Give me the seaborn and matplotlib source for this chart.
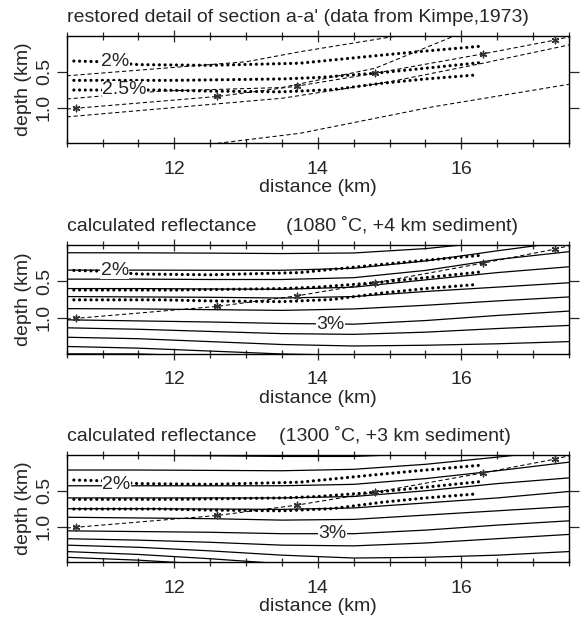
import numpy as np
import pandas as pd
import matplotlib
matplotlib.use("Agg")
import matplotlib.pyplot as plt
from matplotlib.ticker import MultipleLocator
import seaborn as sns

sns.set_theme(style="ticks")
plt.rcParams["font.family"] = ["Liberation Sans", "DejaVu Sans"]
plt.rcParams["lines.scale_dashes"] = False
FS = 14

# ---------------- data ----------------
# measured reflectance rows (dotted), distance km / depth km
ROW1_X = [10.6, 11.0, 11.5, 12.5, 13.75, 14.86, 15.5, 16.3]
ROW1_D = [0.35, 0.36, 0.40, 0.41, 0.38, 0.27, 0.21, 0.14]
ROW2_X = [10.6, 12.0, 13.5, 14.0, 14.8, 15.5, 16.28]
ROW2_D = [0.62, 0.62, 0.60, 0.58, 0.52, 0.45, 0.37]
ROW3_X = [10.6, 11.8, 12.5, 13.5, 14.2, 14.9, 15.5, 16.2]
ROW3_D = [0.755, 0.755, 0.77, 0.78, 0.75, 0.66, 0.60, 0.545]

# sample wells (asterisks) and the horizon through them
WELL_X = [10.63, 12.6, 13.71, 14.8, 16.3, 17.31]
WELL_D = [1.01, 0.845, 0.70, 0.52, 0.25, 0.056]
HOR_X = [10.5] + WELL_X + [17.5]
HOR_D = [1.02] + WELL_D + [0.01]

# restored section horizons (panel 1, dashed)
H1_X = [10.5, 11.85, 13.0, 13.75, 15.1, 15.4]
H1_D = [0.556, 0.45, 0.36, 0.22, 0.0, -0.05]
H2_X = [10.5, 11.8, 13.5, 14.8, 15.9, 16.2]
H2_D = [0.88, 0.77, 0.72, 0.45, 0.0, -0.08]
H4_X = [10.5, 12.0, 13.5, 15.0, 16.3, 17.5]
H4_D = [1.13, 1.00, 0.87, 0.64, 0.38, 0.125]
H5_X = [12.6, 13.75, 15.6, 17.5]
H5_D = [1.50, 1.36, 0.99, 0.675]

# calculated reflectance contours, depth at these distances
CX = [10.5, 11.5, 12.5, 13.5, 14.5, 15.5, 16.5, 17.5]
P2_CONTOURS = [
    [0.107, 0.108, 0.112, 0.118, 0.11, 0.05, -0.05, -0.15],
    [0.346, 0.346, 0.348, 0.348, 0.32, 0.22, 0.08, -0.05],
    [0.47, 0.47, 0.475, 0.475, 0.45, 0.35, 0.20, 0.092],
    [0.60, 0.60, 0.605, 0.61, 0.58, 0.48, 0.38, 0.30],
    [0.71, 0.715, 0.72, 0.73, 0.71, 0.64, 0.58, 0.52],
    [0.876, 0.88, 0.89, 0.90, 0.88, 0.83, 0.77, 0.715],
    [1.03, 1.045, 1.06, 1.08, 1.09, 1.04, 0.97, 0.91],
    [1.14, 1.16, 1.19, 1.22, 1.23, 1.20, 1.15, 1.107],
    [1.27, 1.29, 1.33, 1.37, 1.39, 1.38, 1.36, 1.33],
    [1.397, 1.42, 1.46, 1.50, 1.52, 1.55, 1.58, 1.60],
    [1.498, 1.50, 1.53, 1.56, 1.58, 1.60, 1.62, 1.64],
]
P3_CONTOURS = [
    [0.00, 0.005, 0.01, 0.02, 0.02, -0.02, -0.1, -0.2],
    [0.21, 0.21, 0.215, 0.22, 0.20, 0.13, 0.03, -0.08],
    [0.43, 0.43, 0.43, 0.43, 0.41, 0.33, 0.22, 0.10],
    [0.60, 0.60, 0.60, 0.60, 0.58, 0.50, 0.40, 0.32],
    [0.75, 0.75, 0.755, 0.76, 0.74, 0.67, 0.60, 0.51],
    [0.87, 0.88, 0.89, 0.91, 0.90, 0.84, 0.78, 0.72],
    [1.06, 1.07, 1.08, 1.10, 1.10, 1.05, 0.98, 0.92],
    [1.17, 1.19, 1.22, 1.26, 1.27, 1.23, 1.17, 1.11],
    [1.26, 1.29, 1.34, 1.40, 1.44, 1.43, 1.40, 1.35],
    [1.35, 1.39, 1.45, 1.52, 1.58, 1.60, 1.60, 1.58],
    [1.43, 1.47, 1.53, 1.60, 1.66, 1.70, 1.72, 1.74],
]

TITLES = ["restored detail of section a-a' (data from Kimpe,1973)",
          "calculated reflectance", "calculated reflectance"]
SUBTITLES = [None, "(1080 \u02daC, +4 km sediment)", "(1300 \u02daC, +3 km sediment)"]
SUB_POS = [None, 0.437, 0.423]

# ---------------- drawing ----------------
fig = plt.figure(figsize=(5.83, 6.21), dpi=100)
ax1 = fig.add_axes([0.1144, 0.7692, 0.8616, 0.1728])
ax2 = fig.add_axes([0.1144, 0.4300, 0.8616, 0.1755])
ax3 = fig.add_axes([0.1144, 0.0945, 0.8616, 0.1728])
axes = [ax1, ax2, ax3]

DOT = dict(color="black", lw=2.3, linestyle=(0, (0.01, 4.1)),
           dash_capstyle="round", zorder=4)
DASH = dict(color="black", lw=0.75, linestyle=(0, (3.0, 2.0)), zorder=3)
SOLID = dict(color="black", lw=0.9, zorder=2)


def line(ax, xs, ds, **kw):
    df = pd.DataFrame({"distance": xs, "depth": ds})
    sns.lineplot(data=df, x="distance", y="depth", ax=ax, estimator=None,
                 sort=False, legend=False, **kw)


def rows(ax):
    line(ax, ROW1_X, ROW1_D, **DOT)
    line(ax, ROW2_X, ROW2_D, **DOT)
    line(ax, ROW3_X, ROW3_D, **DOT)


def wells(ax):
    sns.scatterplot(x=WELL_X, y=WELL_D, ax=ax, marker=(6, 2, 0), s=22,
                    color="#333333", linewidth=1.0, zorder=5, legend=False)


def label(ax, x, d, txt):
    ax.text(x, d, txt, fontsize=FS, ha="center", va="center", zorder=6,
            bbox=dict(fc="white", ec="none", pad=0.2))


# panel 1
for hx, hd in [(H1_X, H1_D), (H2_X, H2_D), (HOR_X, HOR_D), (H4_X, H4_D), (H5_X, H5_D)]:
    line(ax1, hx, hd, **DASH)
rows(ax1)
wells(ax1)
label(ax1, 11.18, 0.35, "2%")
label(ax1, 11.30, 0.75, "2.5%")

# panels 2 & 3
for ax, cons, l2, l3 in [(ax2, P2_CONTOURS, (11.17, 0.346), (14.18, 1.09)),
                         (ax3, P3_CONTOURS, (11.19, 0.41), (14.2, 1.10))]:
    for c in cons:
        line(ax, CX, c, **SOLID)
    line(ax, HOR_X, HOR_D, **DASH)
    rows(ax)
    wells(ax)
    label(ax, l2[0], l2[1], "2%")
    label(ax, l3[0], l3[1], "3%")

for i, ax in enumerate(axes):
    ax.set_xlim(10.5, 17.5)
    ax.set_ylim(1.5, 0.0)
    ax.set_xticks([12, 14, 16])
    ax.set_xticklabels(["12", "14", "16"], fontsize=FS)
    ax.xaxis.set_minor_locator(MultipleLocator(0.5))
    ax.set_yticks([0.5, 1.0])
    ax.set_yticklabels(["0.5", "1.0"], fontsize=FS, rotation=90, va="center")
    ax.tick_params(axis="x", which="major", direction="inout", length=9,
                   width=0.9, top=True, bottom=True, pad=8)
    ax.tick_params(axis="x", which="minor", direction="inout", length=6,
                   width=0.9, top=True, bottom=True)
    ax.tick_params(axis="y", which="major", direction="out", length=7,
                   width=0.9, left=True, right=True, pad=3)
    for s in ax.spines.values():
        s.set_visible(True)
        s.set_linewidth(1.0)
        s.set_color("black")
    ax.set_xlabel("distance (km)", fontsize=FS, labelpad=1)
    ax.set_ylabel("depth (km)", fontsize=FS, labelpad=3)
    ax.set_title(TITLES[i], loc="left", fontsize=FS, pad=10)
    if SUBTITLES[i]:
        ax.text(SUB_POS[i], 1.0 + 10 / 72 * 100 / 108, SUBTITLES[i],
                transform=ax.transAxes, fontsize=FS, ha="left", va="baseline")

fig.savefig("out.png", dpi=100)
